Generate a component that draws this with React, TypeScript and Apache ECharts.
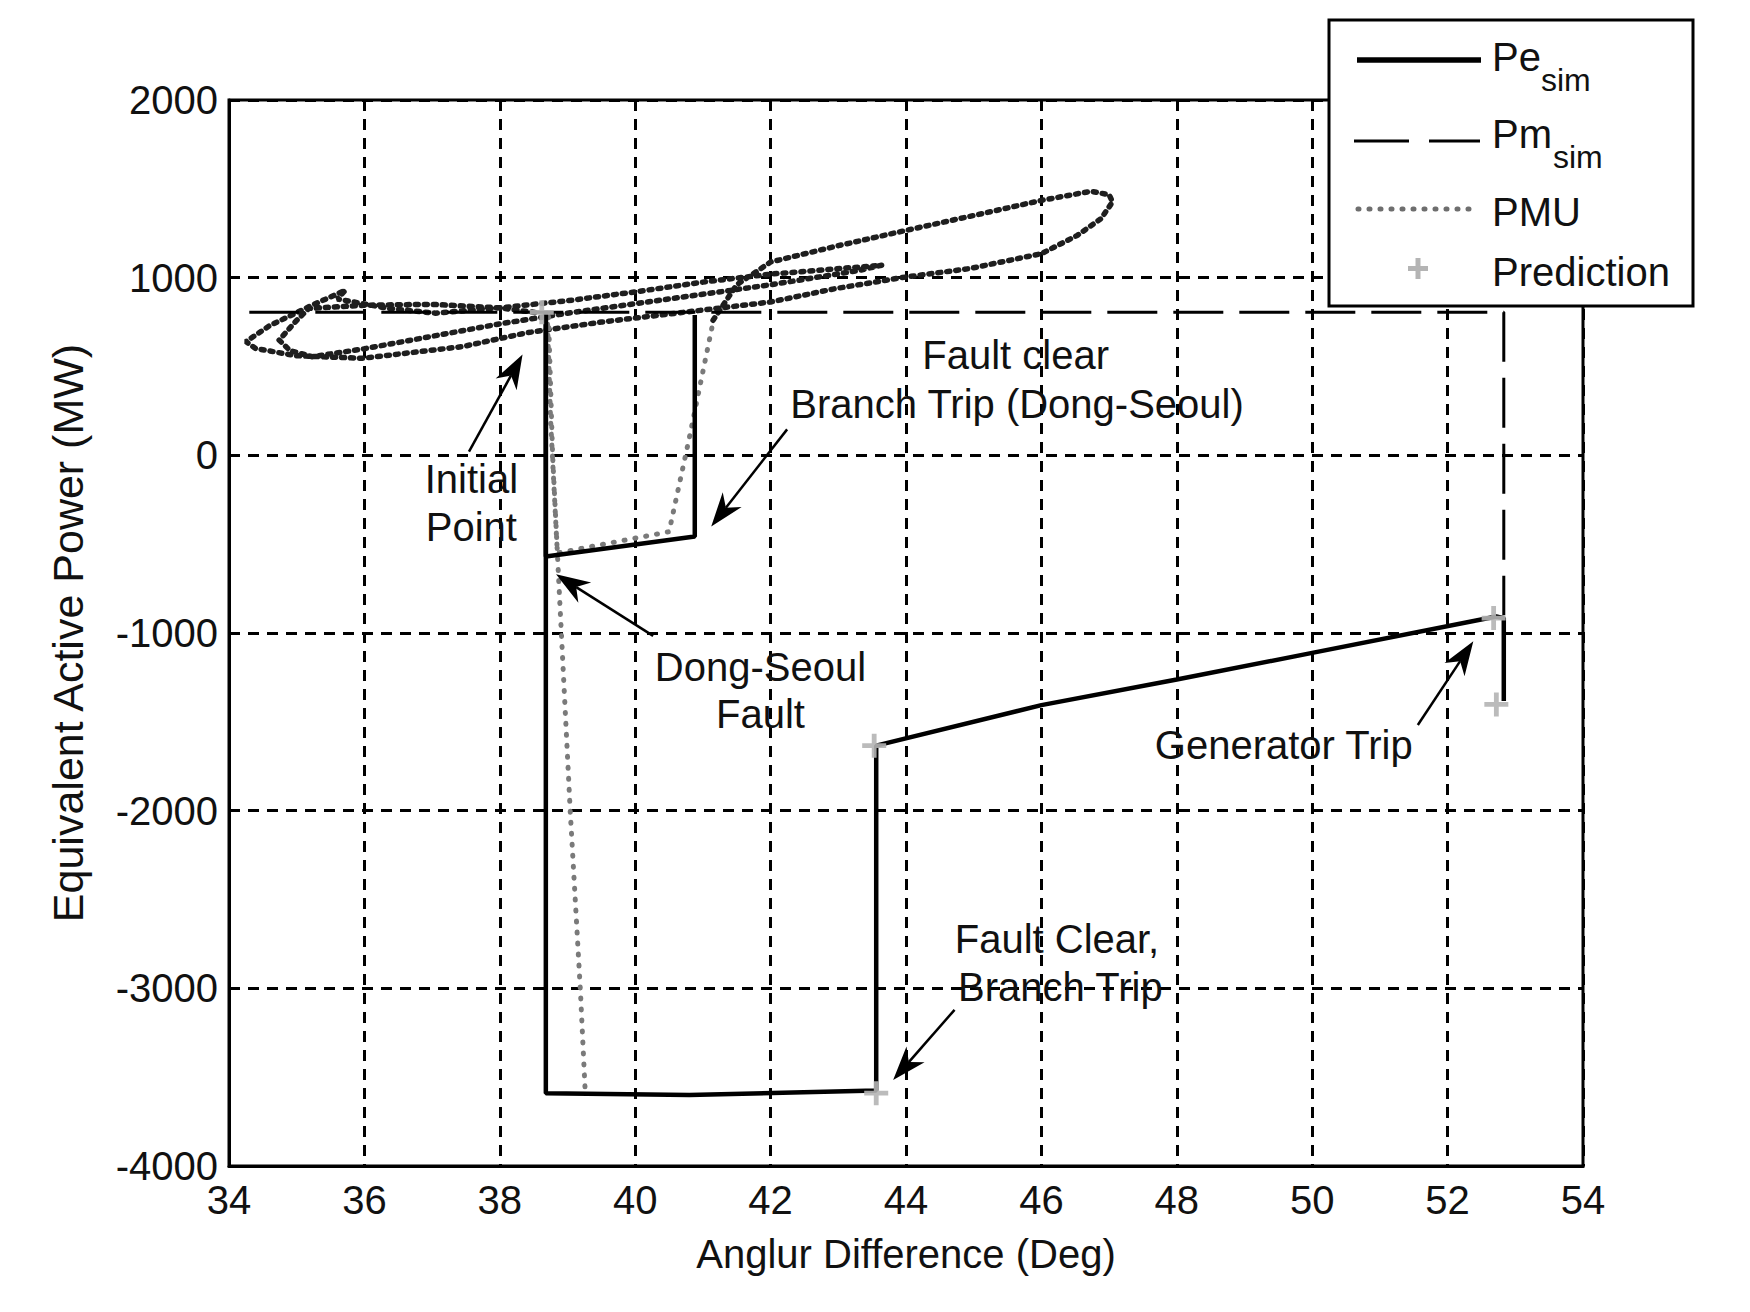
import React, { useEffect, useRef } from 'react';
import * as echarts from 'echarts';

// ---- axis ranges / ticks ----
const xMin = 34, xMax = 54, xStep = 2;
const yMin = -4000, yMax = 2000, yStep = 1000;

// ---- Pe_sim (solid) ----
const peBranchTrip = [[38.68, 800], [38.68, -570], [40.88, -457], [40.88, 790]];
const peFaultClear = [
  [38.68, 800], [38.68, -3590], [40.8, -3600], [43.56, -3575], [43.56, -1634],
  [46, -1406], [48, -1262], [50, -1112], [52.72, -907], [52.83, -916], [52.83, -1383],
];

// ---- Pm_sim (long dash) ----
const pmSim = [[34.3, 805], [52.83, 805], [52.83, -900]];

// ---- PMU (dotted) ----
const pmuBranchTrip = [[38.7, 800], [38.75, 200], [38.85, -550], [40.5, -430], [40.8, 100], [41.15, 750]];
const pmuFaultClear = [[38.72, 780], [38.78, 0], [38.86, -624], [39.04, -2000], [39.19, -3010], [39.26, -3570]];
const pmuSwing = [
  [41.15, 760], [41.5, 960], [42.0, 1088], [43.0, 1180], [44.0, 1266], [45.0, 1350], [46.0, 1435],
  [46.73, 1486], [47.0, 1467], [47.05, 1426], [46.88, 1332], [46.53, 1238], [46.0, 1135],
  [44.94, 1051], [44.0, 1004], [42.95, 938], [42.0, 863], [40.96, 816], [39.5, 750], [38.4, 690],
  [37.45, 612], [35.97, 546], [34.98, 561], [34.39, 602], [34.25, 640], [34.6, 730], [35.2, 840],
  [35.72, 930], [35.6, 880], [36.36, 827], [37.05, 800], [38.0, 830], [39.0, 870], [40.0, 920],
  [41.0, 975], [42.0, 1020], [43.64, 1070], [43.3, 1040], [42.0, 960], [40.5, 880], [39.0, 800],
  [38.0, 740], [37.0, 670], [36.0, 600], [35.23, 555], [34.9, 590], [34.74, 649], [35.0, 760],
  [35.18, 827], [36.0, 845], [37.0, 850], [38.0, 830], [38.6, 800],
];

// ---- Prediction (+) ----
const prediction = [[38.62, 805], [43.53, -1634], [43.56, -3590], [52.68, -916], [52.72, -1402]];

// ---- annotations (data coordinates) ----
const annotationTexts = [
  { text: 'Fault clear', at: [45.62, 567] },
  { text: 'Branch Trip (Dong-Seoul)', at: [45.64, 291] },
  { text: 'Initial', at: [37.58, -136] },
  { text: 'Point', at: [37.58, -406] },
  { text: 'Dong-Seoul', at: [41.85, -1192] },
  { text: 'Fault', at: [41.85, -1456] },
  { text: 'Generator Trip', at: [49.58, -1632] },
  { text: 'Fault Clear,', at: [46.23, -2725] },
  { text: 'Branch Trip', at: [46.28, -2995] },
];
const annotationArrows = [
  { from: [37.545, 21], to: [38.336, 567] },
  { from: [42.244, 146], to: [41.123, -400] },
  { from: [40.265, -1016], to: [38.831, -670] },
  { from: [51.56, -1518], to: [52.38, -1047] },
  { from: [44.717, -3121], to: [43.81, -3516] },
];

const FONT = '"Liberation Sans", Arial, sans-serif';

function txt(text: string, x: number, y: number, size: number, align = 'left') {
  return {
    type: 'text', x, y, z: 120,
    style: {
      text, fontSize: size, fontFamily: FONT, fill: '#111',
      align, verticalAlign: 'middle', textAlign: align, textVerticalAlign: 'middle',
    },
  };
}

export default function App() {
  const ref = useRef<HTMLDivElement>(null);
  useEffect(() => {
    if (!ref.current) return;
    const chart = echarts.init(ref.current, null, { renderer: 'svg' });
    const dotted = { color: '#7a7a7a', width: 5, type: [1, 10], cap: 'round' };
    const option: any = {
      animation: false,
      backgroundColor: '#fff',
      grid: { left: 229, top: 100, width: 1354, height: 1066, show: true, borderColor: '#000', borderWidth: 3, backgroundColor: 'transparent' },
      xAxis: {
        type: 'value', min: xMin, max: xMax, interval: xStep,
        name: 'Anglur Difference (Deg)', nameLocation: 'middle', nameGap: 68,
        nameTextStyle: { fontSize: 40, fontFamily: FONT, color: '#111' },
        axisLine: { show: true, onZero: false, lineStyle: { color: '#000', width: 3 } },
        axisTick: { show: false },
        axisLabel: { fontSize: 40, fontFamily: FONT, color: '#111', margin: 14, formatter: (v: number) => String(v) },
        splitLine: { show: true, lineStyle: { color: '#000', width: 3, type: [11, 8] } },
      },
      yAxis: {
        type: 'value', min: yMin, max: yMax, interval: yStep,
        name: 'Equivalent Active Power (MW)', nameLocation: 'middle', nameGap: 140,
        nameTextStyle: { fontSize: 43, fontFamily: FONT, color: '#111' },
        axisLine: { show: true, onZero: false, lineStyle: { color: '#000', width: 3 } },
        axisTick: { show: false },
        axisLabel: { fontSize: 40, fontFamily: FONT, color: '#111', margin: 11, formatter: (v: number) => String(v) },
        splitLine: { show: true, lineStyle: { color: '#000', width: 3, type: [11, 8] } },
      },
      series: [
        { name: 'PMU', type: 'line', data: pmuSwing, showSymbol: false, symbol: 'none', z: 2,
          lineStyle: { color: '#1e1e1e', width: 5.5, type: [3, 6], cap: 'round' } },
        { name: 'PMU', type: 'line', data: pmuBranchTrip, showSymbol: false, symbol: 'none', z: 2, lineStyle: dotted },
        { name: 'PMU', type: 'line', data: pmuFaultClear, showSymbol: false, symbol: 'none', z: 2, lineStyle: dotted },
        { name: 'Pm_sim', type: 'line', data: pmSim, showSymbol: false, symbol: 'none', z: 3,
          lineStyle: { color: '#000', width: 3, type: [50, 16] } },
        { name: 'Pe_sim', type: 'line', data: peBranchTrip, showSymbol: false, symbol: 'none', z: 4,
          lineStyle: { color: '#000', width: 4.5 } },
        { name: 'Pe_sim', type: 'line', data: peFaultClear, showSymbol: false, symbol: 'none', z: 4,
          lineStyle: { color: '#000', width: 4.5 } },
        { name: 'Prediction', type: 'scatter', data: prediction, z: 5,
          symbol: 'path://M4,0H6V4H10V6H6V10H4V6H0V4H4Z', symbolSize: 24,
          itemStyle: { color: '#b4b4b4', opacity: 0.9 } },
      ],
    };
    chart.setOption(option);

    const px = (p: number[]) => chart.convertToPixel({ gridIndex: 0 }, p) as number[];
    const graphics: any[] = [];
    annotationTexts.forEach((a) => {
      const p = px(a.at);
      graphics.push(txt(a.text, p[0], p[1], 40, 'center'));
    });
    annotationArrows.forEach((a) => {
      const t = px(a.from), h = px(a.to);
      const dx = h[0] - t[0], dy = h[1] - t[1];
      const len = Math.hypot(dx, dy);
      const ux = dx / len, uy = dy / len, nx = -uy, ny = ux;
      const L = 34, W = 12;
      const bx = h[0] - ux * L, by = h[1] - uy * L;
      const notch = [h[0] - ux * L * 0.7, h[1] - uy * L * 0.7];
      graphics.push({ type: 'line', z: 110, shape: { x1: t[0], y1: t[1], x2: notch[0], y2: notch[1] }, style: { stroke: '#000', lineWidth: 2.5 } });
      graphics.push({ type: 'polygon', z: 110, shape: { points: [h, [bx + nx * W, by + ny * W], notch, [bx - nx * W, by - ny * W]] }, style: { fill: '#000' } });
    });

    // legend box
    graphics.push({ type: 'rect', z: 115, shape: { x: 1329, y: 20, width: 364, height: 286 }, style: { fill: '#fff', stroke: '#000', lineWidth: 3 } });
    graphics.push({ type: 'line', z: 116, shape: { x1: 1357, y1: 60, x2: 1481, y2: 60 }, style: { stroke: '#000', lineWidth: 5.5 } });
    graphics.push(txt('Pe', 1492, 57, 40));
    graphics.push(txt('sim', 1541, 80, 32));
    graphics.push({ type: 'line', z: 116, shape: { x1: 1354, y1: 141, x2: 1480, y2: 141 }, style: { stroke: '#000', lineWidth: 3, lineDash: [55, 20] } });
    graphics.push(txt('Pm', 1492, 134, 40));
    graphics.push(txt('sim', 1553, 157, 32));
    graphics.push({ type: 'line', z: 116, shape: { x1: 1358, y1: 209, x2: 1474, y2: 209 }, style: { stroke: '#6e6e6e', lineWidth: 5, lineDash: [1, 10], lineCap: 'round' } });
    graphics.push(txt('PMU', 1492, 212, 40));
    graphics.push({ type: 'rect', z: 116, shape: { x: 1408, y: 266, width: 20, height: 5 }, style: { fill: '#b4b4b4' } });
    graphics.push({ type: 'rect', z: 116, shape: { x: 1415.5, y: 258, width: 5, height: 21 }, style: { fill: '#b4b4b4' } });
    graphics.push(txt('Prediction', 1492, 272, 40));

    chart.setOption({ graphic: graphics });
    return () => chart.dispose();
  }, []);
  return <div ref={ref} style={{ position: 'fixed', left: 0, top: 0, width: 1750, height: 1312, background: '#fff' }} />;
}
